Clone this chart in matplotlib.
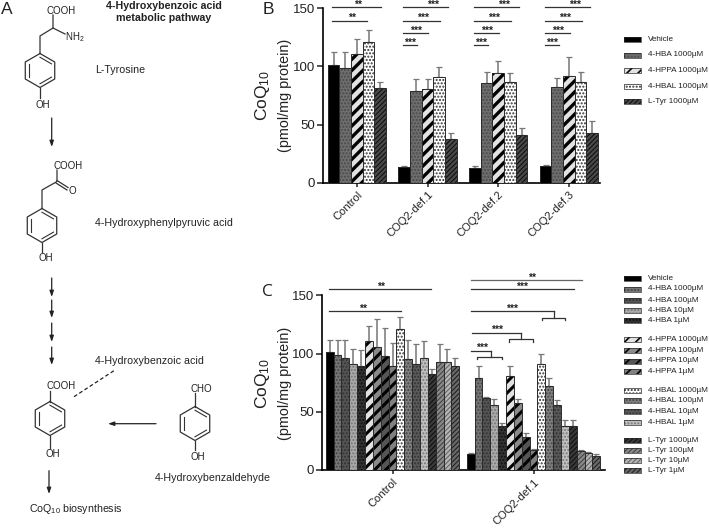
import numpy as np
import matplotlib
matplotlib.use('Agg')
import matplotlib.pyplot as plt
from matplotlib.patches import Rectangle

plt.rcParams['font.family'] = ['Liberation Sans', 'DejaVu Sans']
plt.rcParams['mathtext.default'] = 'regular'
plt.rcParams['mathtext.fontset'] = 'custom'
plt.rcParams['mathtext.rm'] = 'Liberation Sans'

W, H = 709, 528

# panel B values
b_groups = ['Control', 'COQ2-def.1', 'COQ2-def.2', 'COQ2-def.3']
b_names = ['Vehicle', '4-HBA 1000µM', '4-HPPA 1000µM', '4-HBAL 1000µM', 'L-Tyr 1000µM']
b_vehicle = [101, 13.5, 13, 14]
b_hba = [99, 79, 86, 82.5]
b_hppa = [111, 81, 94, 91.5]
b_hbal = [121, 91, 87, 87]
b_tyr = [81.5, 37.5, 41, 42.5]
b_vehicle_err = [11, 1, 1, 1]
b_hba_err = [13, 10, 9, 7.5]
b_hppa_err = [13, 8.5, 11, 17]
b_hbal_err = [10, 8.5, 7, 8]
b_tyr_err = [5.5, 5.5, 6, 10.5]

# panel C values
c_groups = ['Control', 'COQ2-def.1']
c_names = ['Vehicle', '4-HBA 1000µM', '4-HBA 100µM', '4-HBA 10µM', '4-HBA 1µM',
           '4-HPPA 1000µM', '4-HPPA 100µM', '4-HPPA 10µM', '4-HPPA 1µM',
           '4-HBAL 1000µM', '4-HBAL 100µM', '4-HBAL 10µM', '4-HBAL 1µM',
           'L-Tyr 1000µM', 'L-Tyr 100µM', 'L-Tyr 10µM', 'L-Tyr 1µM']
c_control = [101, 99, 96, 91, 89, 111, 106, 98, 89, 121, 95.5, 91, 96, 82, 92.5, 93, 89.5]
c_control_err = [11, 13, 16, 13, 14, 13, 24, 24, 20, 10, 16.5, 17, 15, 5, 15.5, 11, 6.5]
c_def1 = [13.5, 79, 62, 56, 38, 81, 57.5, 28.5, 17, 91, 72, 56, 38, 38, 16, 14.5, 12]
c_def1_err = [1, 10, 0.5, 5, 2, 8.5, 3.5, 3.5, 1, 8.5, 7, 4, 5, 5, 1, 1, 2]

# fill, hatch colour, hatch, hatch line width
style_b = [('black', 'black', None, 1),
           ('#6e6e6e', '#4a4a4a', '.....', 1),
           ('#e2e2e2', 'black', '///', 2.4),
           ('white', '#333333', '.....', 1),
           ('#4a4a4a', '#111111', '///////', 0.8)]
style_c = [('black', 'black', None, 1),
           ('#777777', '#444444', '.....', 1),
           ('#555555', '#333333', '.....', 1),
           ('#ababab', '#777777', '.....', 1),
           ('#333333', '#111111', '.....', 1),
           ('#e2e2e2', 'black', '///', 2.2),
           ('#8a8a8a', 'black', '///', 2.2),
           ('#555555', 'black', '///', 2.2),
           ('#808080', 'black', '///', 2.2),
           ('white', '#333333', '.....', 1),
           ('#808080', '#444444', '.....', 1),
           ('#5a5a5a', '#333333', '.....', 1),
           ('#c0c0c0', '#777777', '.....', 1),
           ('#3a3a3a', '#111111', '///////', 0.8),
           ('#8a8a8a', '#444444', '///////', 0.8),
           ('#b5b5b5', '#666666', '///////', 0.8),
           ('#6a6a6a', '#222222', '///////', 0.8)]


def px_axes(left, right, top, bottom):
    ax = fig.add_axes([left/W, 1-bottom/H, (right-left)/W, (bottom-top)/H])
    ax.spines['top'].set_visible(False)
    ax.spines['right'].set_visible(False)
    ax.spines['left'].set_linewidth(1.2)
    ax.spines['bottom'].set_linewidth(1.2)
    ax.set_ylim(0, 150)
    ax.set_yticks([0, 50, 100, 150])
    ax.tick_params(axis='y', labelsize=9.5, length=4, width=1.1, pad=1.5, colors='#222222')
    ax.tick_params(axis='x', labelsize=8, length=3, width=1.1, pad=2, colors='#222222')
    ax.patch.set_alpha(0)
    return ax


def draw_bars(ax, series, errs, styles, width, step=1.0):
    n = len(series)
    for i in range(n):
        xs = np.arange(len(series[i]))*step + (i-(n-1)/2)*width
        fc, hc, hatch, hlw = styles[i]
        ax.bar(xs, series[i], width=width, color=fc, edgecolor=hc, hatch=hatch, hatch_linewidth=hlw,
               linewidth=0, zorder=3)
        ax.bar(xs, series[i], width=width, fill=False, edgecolor='#2a2a2a', linewidth=0.7, zorder=3)
        ax.errorbar(xs, series[i], yerr=[np.zeros(len(xs)), errs[i]], fmt='none', ecolor='#777777',
                    elinewidth=1.1, capsize=2, capthick=0.9, zorder=2)


def ring(cx, cy, r=17):
    a = np.radians(np.arange(90, 451, 60))
    xs = cx + r*np.cos(a)
    ys = cy - r*np.sin(a)
    ov.plot(xs, ys, color=mol, lw=0.9)
    for k in (1, 3, 5):
        x0 = cx + (xs[k]-cx)*0.78
        x1 = cx + (xs[k+1]-cx)*0.78
        y0 = cy + (ys[k]-cy)*0.78
        y1 = cy + (ys[k+1]-cy)*0.78
        ov.plot([x0, x1], [y0, y1], color=mol, lw=0.8)


def bond(xs, ys):
    ov.plot(xs, ys, color=mol, lw=0.9)


def arrow(x0, y0, x1, y1):
    ov.annotate('', xy=(x1, y1), xytext=(x0, y0),
                arrowprops=dict(arrowstyle='-|>,head_length=0.35,head_width=0.12', color='#222222', lw=0.9,
                                shrinkA=0, shrinkB=0))


def label(x, y, s, size=7.7, ha='left', **kw):
    ov.text(x, y, s, fontsize=size, ha=ha, va='center', color='#222222', **kw)


def sig(x0, x1, y, xs, stars, col='#333333'):
    ov.plot([x0, x1], [y, y], color=col, lw=0.9)
    ov.text(xs, y-2.5, stars, fontsize=7.5, ha='center', va='center', color='#222222', fontweight='bold')


def brace(xv, y0, y1, xl, xr, y2):
    ov.plot([xv, xv], [y0, y1], color='#333333', lw=0.9)
    ov.plot([xl, xl, xr, xr], [y2, y1, y1, y2], color='#333333', lw=0.9)


def legend_row(y, name, st):
    ov.add_patch(Rectangle((624, y-2.5), 17, 5, facecolor=st[0], edgecolor=st[1], hatch=st[2],
                           hatch_linewidth=min(st[3], 1.2), lw=0))
    ov.add_patch(Rectangle((624, y-2.5), 17, 5, fill=False, edgecolor='#2a2a2a', lw=0.5))
    label(648, y, name, size=5.9)


fig = plt.figure(figsize=(W/100, H/100), dpi=100)

# panel B
ax_b = px_axes(322.7, 600, 8.3, 182.7)
ax_b.set_xlim(-0.485, 3.44)
draw_bars(ax_b, [b_vehicle, b_hba, b_hppa, b_hbal, b_tyr],
          [b_vehicle_err, b_hba_err, b_hppa_err, b_hbal_err, b_tyr_err], style_b, 0.165)
ax_b.set_xticks(range(len(b_groups)))
ax_b.set_xticklabels(b_groups, rotation=45, ha='right', rotation_mode='anchor')

# panel C
ax_c = px_axes(322, 605, 295.3, 470)
ax_c.set_xlim(-0.5, 1.507)
draw_bars(ax_c, [[c_control[i], c_def1[i]] for i in range(17)],
          [[c_control_err[i], c_def1_err[i]] for i in range(17)], style_c, 0.0557)
ax_c.set_xticks(range(len(c_groups)))
ax_c.set_xticklabels(c_groups, rotation=45, ha='right', rotation_mode='anchor')

# pixel overlay for pathway, significance lines and legends
ov = fig.add_axes([0, 0, 1, 1], zorder=5)
ov.set_xlim(0, W)
ov.set_ylim(H, 0)
ov.axis('off')
mol = '#333333'

# panel letters
label(1, 9, 'A', size=12.5)
label(263, 9, 'B', size=12.5)
label(262, 292, 'C', size=12.5, family=['Open Sans', 'DejaVu Sans'])

# y labels
for yc in (95, 383):
    ov.text(262, yc, 'CoQ$_{10}$', fontsize=12.5, rotation=90, ha='center', va='center', color='#222222')
    ov.text(285, yc, '(pmol/mg protein)', fontsize=10.4, rotation=90, ha='center', va='center', color='#222222')

# pathway
label(164, 6, '4-Hydroxybenzoic acid', ha='center', fontweight='bold')
label(164, 18, 'metabolic pathway', ha='center', fontweight='bold')
label(95, 70, 'L-Tyrosine')
label(95, 223, '4-Hydroxyphenylpyruvic acid')
label(95, 361, '4-Hydroxybenzoic acid')
label(155, 478, '4-Hydroxybenzaldehyde')
label(29, 509, 'CoQ$_{10}$ biosynthesis')

# L-tyrosine
ring(40, 70.5)
bond([40, 40, 53, 53], [53.5, 36, 28, 15])
bond([53, 65], [28, 34])
label(61, 10.5, 'COOH', size=7, ha='center')
label(75, 37, 'NH$_2$', size=7, ha='center')
bond([40, 40], [87.5, 98])
label(43, 105, 'OH', size=7, ha='center')

# 4-hydroxyphenylpyruvic acid
ring(42, 225.5)
bond([42, 42, 57, 57], [208.5, 190, 181.5, 170])
bond([57, 68], [180.5, 187.5])
bond([56, 67], [183, 190])
label(68, 166, 'COOH', size=7, ha='center')
label(72, 191, 'O', size=7, ha='center')
bond([42, 42], [242.5, 252])
label(46, 258, 'OH', size=7, ha='center')

# 4-hydroxybenzoic acid
ring(50, 418.5)
bond([50, 50], [401.5, 391])
label(61, 386, 'COOH', size=7, ha='center')
bond([50, 50], [435.5, 448])
label(52.7, 454, 'OH', size=7, ha='center')
ov.plot([74, 115], [396.7, 370], color='#222222', lw=0.9, ls=(0, (3, 2)))

# 4-hydroxybenzaldehyde
ring(195, 423.5)
bond([195, 195], [406.5, 393])
label(201.7, 389, 'CHO', size=7, ha='center')
bond([195, 195], [440.5, 450])
label(198, 457, 'OH', size=7, ha='center')

# arrows
arrow(51.7, 118, 51.7, 147)
arrow(51.7, 278, 51.7, 297)
arrow(51.7, 300, 51.7, 318)
arrow(51.7, 323, 51.7, 342)
arrow(51.7, 347, 51.7, 365)
arrow(156, 423.7, 108, 423.7)
arrow(49, 470.7, 49, 494)

# significance B
sig(332, 380.7, 7.3, 358, '**')
sig(332, 367, 20.7, 351.7, '**')
for dx in (0, 71, 142):
    sig(403.3+dx, 448.3+dx, 7.3, 433+dx, '***')
    sig(403.3+dx, 440+dx, 20.7, 423+dx, '***')
    sig(403.3+dx, 428.3+dx, 33.3, 416+dx, '***')
    sig(403.3+dx, 416.7+dx, 45, 410+dx, '***')

# significance C
sig(329.3, 431, 289.3, 380.7, '**')
sig(329.3, 400.7, 311.3, 362.7, '**')
sig(471, 581.7, 280, 532.3, '**', col='#666666')
sig(471, 574, 289.3, 521.7, '***')
sig(471, 554.3, 311.3, 512.3, '***')
brace(554.3, 311.3, 317.7, 542, 565.3, 320)
sig(471.7, 521.3, 332.7, 497.3, '***')
brace(521.3, 332.7, 339, 509.3, 533.3, 341.7)
sig(471, 491.3, 350.7, 481.7, '***')
brace(491.3, 350.7, 356.7, 477.3, 502.3, 359.3)

# legends
b_rows = [39.3, 55, 70.7, 86, 101.7]
for y, name, st in zip(b_rows, b_names, style_b):
    legend_row(y, name, st)
c_rows = [278, 289, 300, 310.7, 320.7, 339.3, 350, 361, 371.7, 390, 400.7, 411.7, 422, 440, 450, 460, 470]
for y, name, st in zip(c_rows, c_names, style_c):
    legend_row(y, name, st)

fig.savefig('out.png', dpi=100)
